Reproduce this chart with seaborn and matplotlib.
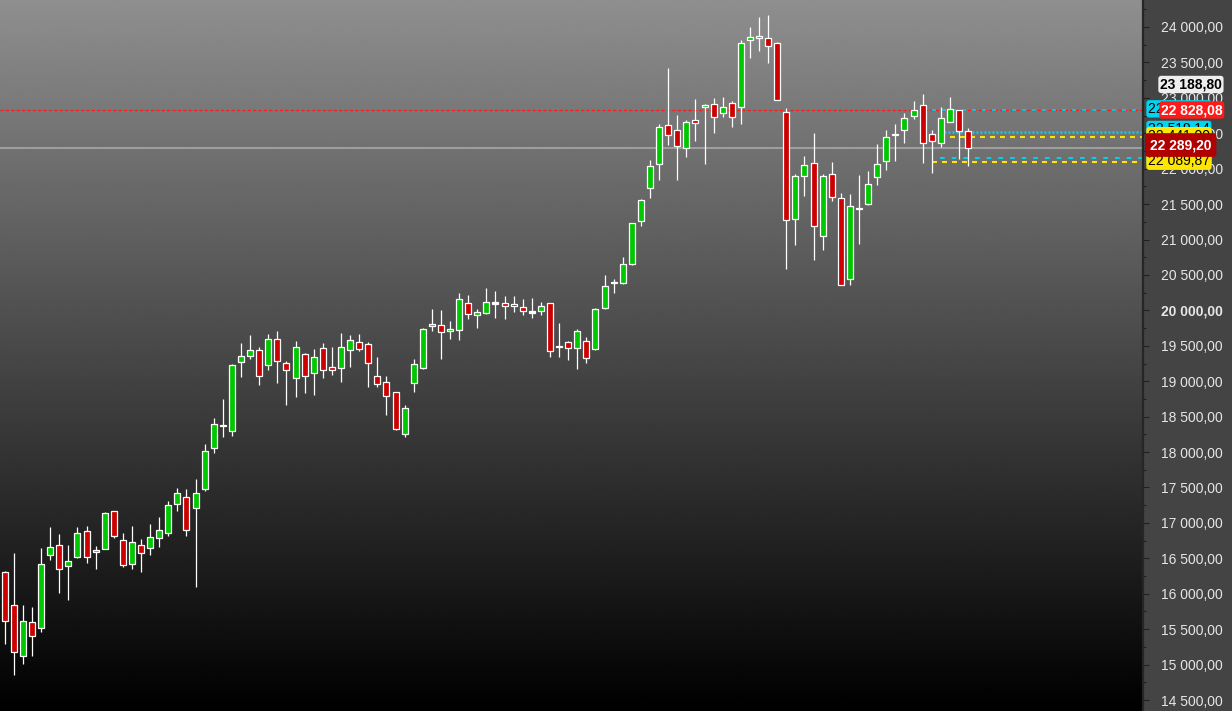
import numpy as np
import pandas as pd
import matplotlib.pyplot as plt
import seaborn as sns
from matplotlib.ticker import MultipleLocator, FuncFormatter
from matplotlib.transforms import blended_transform_factory

# daily candles
opens = [16307, 15837, 15117, 15597, 15512, 16542, 16683, 16396, 16523, 16881,
         16585, 16627, 17163, 16754, 16415, 16683, 16641, 16782, 16853, 17262,
         17361, 17206, 17474, 18053, 18372, 18293, 19267, 19351, 19436, 19224,
         19591, 19253, 19041, 19380, 19111, 19464, 19196, 19182, 19436, 19549,
         19521, 19069, 18984, 18843, 18251, 18970, 19182, 19775, 19789, 19705,
         19719, 20100, 19930, 19958, 20104, 20100, 20085, 20043, 19977, 19987,
         20100, 19487, 19549, 19465, 19563, 19450, 20029, 20396, 20390, 20650,
         21257, 21723, 22062, 22612, 22542, 22288, 22683, 22866, 22909, 22782,
         22923, 22866, 23812, 23840, 23840, 23770, 22796, 21285, 21892, 22076,
         21045, 21921, 21582, 20438, 21435, 21497, 21878, 22104, 22480, 22542,
         22739, 22895, 22485, 22358, 22655, 22824, 22528]
highs = [16321, 16575, 15841, 15813, 16645, 16942, 16843, 16688, 16942, 16956,
         16674, 17154, 17163, 16857, 16956, 16772, 16984, 17083, 17305, 17492,
         17478, 17619, 18113, 18481, 18749, 19243, 19539, 19652, 19483, 19666,
         19709, 19281, 19567, 19394, 19450, 19539, 19483, 19680, 19652, 19666,
         19549, 19337, 19069, 18843, 18660, 19309, 19747, 20019, 20001, 19846,
         20241, 20213, 20015, 20311, 20269, 20199, 20199, 20156, 20170, 20114,
         20100, 19822, 19568, 19733, 19620, 20029, 20495, 20438, 20753, 21229,
         21568, 22122, 22626, 23417, 22753, 22683, 22979, 22909, 22993, 23007,
         22951, 23812, 23996, 24137, 24165, 23784, 22852, 21920, 22183, 22499,
         21920, 22094, 21652, 21638, 21906, 21963, 22348, 22546, 22631, 22782,
         22951, 23050, 22542, 22866, 23007, 22824, 22570]
lows = [15290, 14857, 15012, 15125, 15464, 16480, 16014, 15916, 16509, 16438,
        16353, 16627, 16791, 16381, 16353, 16311, 16551, 16664, 16819, 17172,
        16819, 16099, 17454, 17991, 18217, 18231, 19063, 19318, 18946, 19162,
        18975, 18664, 18781, 18838, 18809, 19049, 19092, 18993, 19205, 19422,
        18922, 18914, 18527, 18307, 18208, 18843, 19168, 19709, 19309, 19591,
        19577, 19874, 19747, 19944, 19888, 19874, 19973, 19930, 19888, 19930,
        19337, 19337, 19295, 19168, 19253, 19436, 20015, 20241, 20376, 20640,
        21195, 21590, 21844, 22330, 21844, 22161, 22386, 22062, 22499, 22725,
        22584, 22626, 23558, 23657, 23487, 22965, 20580, 20927, 21618, 20707,
        20848, 21539, 20354, 20354, 20941, 21483, 21765, 21977, 22104, 22358,
        22697, 22084, 21935, 22310, 22655, 22132, 22033]
closes = [15615, 15173, 15615, 15399, 16415, 16655, 16345, 16458, 16853, 16514,
          16613, 17135, 16811, 16401, 16726, 16571, 16796, 16895, 17248, 17418,
          16895, 17418, 18010, 18392, 18372, 19224, 19351, 19436, 19069, 19591,
          19281, 19154, 19478, 19069, 19337, 19154, 19154, 19478, 19577, 19450,
          19253, 18956, 18787, 18321, 18617, 19239, 19733, 19803, 19690, 19733,
          20156, 19944, 19973, 20114, 20104, 20057, 20057, 19987, 19977, 20057,
          19426, 19487, 19465, 19704, 19323, 20015, 20340, 20396, 20650, 21229,
          21554, 22033, 22584, 22471, 22316, 22655, 22641, 22895, 22725, 22866,
          22725, 23770, 23854, 23869, 23727, 22965, 21271, 21892, 22048, 21186,
          21892, 21596, 20354, 21469, 21435, 21779, 22062, 22443, 22480, 22711,
          22824, 22358, 22386, 22711, 22838, 22528, 22289]

# price levels drawn on the right side
last_price = 22289.20
level_red = 22828.08
level_prev = 23188.80
cyan_levels = [22835.00, 22519.14, 22155.00]
yellow_levels = [22441.00, 22089.87]

df = pd.DataFrame({"open": opens, "high": highs, "low": lows, "close": closes})
df["idx"] = np.arange(len(df))

sns.set_style("dark")
plt.rcParams["font.family"] = ["Liberation Sans", "DejaVu Sans"]

W, H = 1232, 711
axw = 1143
fig = plt.figure(figsize=(W / 100, H / 100), dpi=100, facecolor="#444444")
ax = fig.add_axes([0, 0, axw / W, 1])

ymin, ymax = 14345, 24381
xmin, xmax = -0.52, 125.25

# grey -> black background
grad = np.linspace(0.56, 0.0, 256).reshape(-1, 1)
ax.imshow(grad, extent=[xmin, xmax, ymin, ymax], aspect="auto", cmap="gray",
          vmin=0, vmax=1, zorder=0, interpolation="bilinear")

# candles
def body_color(r):
    if r.close > r.open:
        return "#00c800"
    if r.close < r.open:
        return "#cc0000"
    return "white"

cols = [body_color(r) for r in df.itertuples()]
heights = (df.close - df.open).abs().clip(lower=18)
bottoms = df[["open", "close"]].min(axis=1) - np.where((df.close - df.open).abs() < 18, 9, 0)

ax.vlines(df.idx, df.low, df.high, color="white", lw=0.9, zorder=2)
ax.bar(df.idx, heights, bottom=bottoms, width=0.66, color=cols,
       edgecolor="white", linewidth=0.9, zorder=3)

# horizontal levels
ax.axhline(level_red, color="#ff1a1a", lw=0.9, ls=(0, (2.5, 1.8)), zorder=1.5)
ax.axhline(last_price, color="#a8a8a8", lw=1.2, zorder=1.5)
ax.hlines(cyan_levels[0], 102.0, xmax, color="#00d4f0", lw=1.2, ls=(0, (2.4, 3.6)), zorder=1.6)
ax.hlines(cyan_levels[1], 102.9, xmax, color="#00d4f0", lw=1.8, ls=(0, (0.8, 0.8)), zorder=1.6)
ax.hlines(cyan_levels[2], 102.9, xmax, color="#00d4f0", lw=1.4, ls=(0, (2.4, 3.6)), zorder=1.6)
ax.hlines(yellow_levels[0], 102.9, xmax, color="#ffe600", lw=1.5, ls=(0, (2.4, 2.4)), zorder=1.6)
ax.hlines(yellow_levels[1], 102.0, xmax, color="#ffe600", lw=1.5, ls=(0, (2.4, 2.4)), zorder=1.6)

ax.set_xlim(xmin, xmax)
ax.set_ylim(ymin, ymax)
ax.set_xticks([])

# right price axis
def fmt(v, pos=None):
    return f"{v:,.2f}".replace(",", " ").replace(".", ",")

ax.yaxis.tick_right()
ax.set_yticks(np.arange(14500, 24001, 500))
ax.yaxis.set_minor_locator(MultipleLocator(250))
ax.yaxis.set_major_formatter(FuncFormatter(fmt))
ax.tick_params(axis="y", which="major", direction="out", length=4, width=0.8,
               color="#202020", labelcolor="#e6e6e6", labelsize=10, pad=9)
ax.tick_params(axis="y", which="minor", direction="out", length=2.5, width=0.8,
               color="#202020")
for side in ["left", "top", "bottom"]:
    ax.spines[side].set_visible(False)
ax.spines["right"].set_color("#262626")
ax.spines["right"].set_linewidth(1.6)

fig.canvas.draw()
for lbl in ax.get_yticklabels():
    if lbl.get_text() == "20 000,00":
        lbl.set_fontweight("bold")

# price tags on the axis
tr = blended_transform_factory(ax.transAxes, ax.transData)

def tag(y, text, fg, bg, x_px, weight="normal", pad=0.12, z=10):
    ax.text(x_px / axw, y, text, transform=tr, ha="left", va="center",
            fontsize=10, color=fg, fontweight=weight, clip_on=False, zorder=z,
            bbox=dict(boxstyle=f"round,pad={pad},rounding_size=0.2", fc=bg, ec="none"))

tag(cyan_levels[0] + 10, fmt(cyan_levels[0]), "black", "#00d4f0", 1148, z=10)
tag(level_red, fmt(level_red), "white", "#ff1a1a", 1161, weight="bold", z=11)
tag(cyan_levels[1] + 35, fmt(cyan_levels[1]), "black", "#00d4f0", 1148, z=10)
tag(yellow_levels[0] + 25, fmt(yellow_levels[0]), "black", "#ffe600", 1148, z=11)
tag(cyan_levels[2] + 10, fmt(cyan_levels[2]), "black", "#00d4f0", 1148, z=10)
tag(yellow_levels[1] + 15, fmt(yellow_levels[1]), "black", "#ffe600", 1148, z=11)
tag(last_price + 45, fmt(last_price), "white", "#b00000", 1150, weight="bold", pad=0.35, z=12)
tag(level_prev, fmt(level_prev), "black", "#eeeeee", 1160, weight="bold", z=12)

fig.savefig("out.png", dpi=100, facecolor=fig.get_facecolor())
